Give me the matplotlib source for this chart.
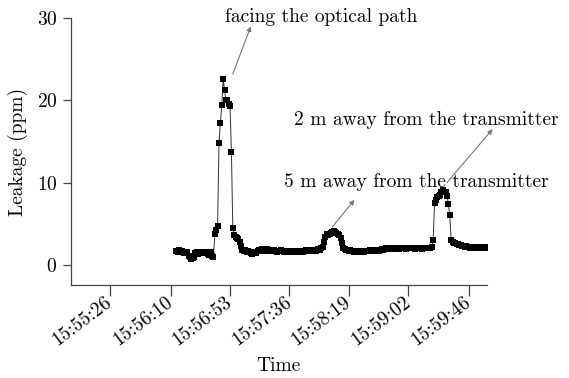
import matplotlib
matplotlib.use("Agg")
import matplotlib.pyplot as plt
from matplotlib.transforms import ScaledTranslation

plt.rcParams['font.family'] = ['cmr10', 'DejaVu Serif']
plt.rcParams['axes.formatter.use_mathtext'] = True

# leakage readings, one per second starting at start_time
start_time = "15:56:14"
step_s = 1
leakage = [
    1.7, 1.6, 1.8, 1.5, 1.7, 1.6, 1.4, 1.6, 1.5, 1.1,
    0.9, 0.7, 0.8, 1.0, 1.4, 1.5, 1.3, 1.6, 1.4, 1.5,
    1.6, 1.4, 1.5, 1.3, 1.2, 1.5, 1.1, 1.0, 3.7, 4.2,
    4.7, 14.8, 17.2, 19.4, 22.6, 21.3, 20.0, 20.0, 19.6, 19.3,
    13.7, 4.5, 3.6, 3.4, 3.3, 3.1, 2.8, 2.3, 1.8, 1.7,
    1.8, 1.6, 1.7, 1.5, 1.4, 1.3, 1.5, 1.6, 1.4, 1.7,
    1.8, 1.7, 1.9, 1.8, 1.7, 1.8, 1.9, 1.7, 1.8, 1.8,
    1.7, 1.8, 1.7, 1.6, 1.7, 1.7, 1.8, 1.7, 1.6, 1.7,
    1.7, 1.6, 1.7, 1.7, 1.6, 1.7, 1.6, 1.7, 1.7, 1.6,
    1.7, 1.7, 1.6, 1.7, 1.8, 1.7, 1.7, 1.8, 1.7, 1.8,
    1.8, 1.7, 1.8, 1.9, 1.8, 2.0, 2.2, 2.8, 3.4, 3.8,
    3.6, 3.7, 3.9, 4.0, 4.1, 4.0, 3.9, 3.7, 3.6, 3.3,
    2.6, 2.0, 1.9, 1.8, 1.8, 1.7, 1.8, 1.7, 1.7, 1.6,
    1.7, 1.7, 1.6, 1.7, 1.7, 1.7, 1.6, 1.7, 1.7, 1.7,
    1.8, 1.7, 1.7, 1.8, 1.7, 1.8, 1.8, 1.7, 1.8, 1.9,
    1.8, 1.9, 2.0, 1.9, 2.0, 1.9, 2.0, 2.0, 1.9, 2.0,
    2.0, 1.9, 2.0, 2.0, 2.1, 2.0, 1.9, 2.0, 2.0, 2.0,
    2.1, 2.0, 2.0, 1.9, 2.0, 2.0, 2.1, 2.0, 1.9, 2.0,
    2.0, 2.1, 2.0, 2.0, 2.1, 2.2, 3.0, 7.5, 7.9, 8.2,
    8.4, 8.5, 8.8, 9.1, 8.9, 8.8, 8.4, 7.4, 6.1, 3.0,
    2.8, 2.7, 2.6, 2.5, 2.5, 2.4, 2.4, 2.3, 2.3, 2.2,
    2.3, 2.2, 2.2, 2.1, 2.2, 2.2, 2.1, 2.2, 2.2, 2.1,
    2.2, 2.1, 2.2, 2.2, 2.1, 2.2,
]

tick_labels = ["15:55:26", "15:56:10", "15:56:53", "15:57:36",
               "15:58:19", "15:59:02", "15:59:46"]
x_range = ["15:54:58", "15:59:59"]
y_ticks = [0, 10, 20, 30]


def to_sec(s):
    h, m, sec = s.split(":")
    return int(h) * 3600 + int(m) * 60 + float(sec)


t0 = to_sec(start_time)
times = [t0 + i * step_s for i in range(len(leakage))]

fs = 14
fig = plt.figure(figsize=(5.69, 3.78), dpi=100)
ax = fig.add_axes([0.125, 0.245, 0.731, 0.707])

ax.plot(times, leakage, color='#333333', lw=0.7, marker='s', ms=4.0,
        mfc='black', mec='black', mew=0)

ax.set_xlim(to_sec(x_range[0]), to_sec(x_range[1]))
ax.set_ylim(-2.5, 30)
ax.set_yticks(y_ticks)
ax.set_xticks([to_sec(s) for s in tick_labels])
ax.set_xticklabels(tick_labels, rotation=37, ha='right', va='center',
                   rotation_mode='anchor', fontsize=13.5)
shift = ScaledTranslation(6 / 100, 0, fig.dpi_scale_trans)
for lab in ax.get_xticklabels():
    lab.set_transform(lab.get_transform() + shift)

for side in ['top', 'right']:
    ax.spines[side].set_visible(False)
for side in ['left', 'bottom']:
    ax.spines[side].set_color('#444444')
    ax.spines[side].set_linewidth(0.9)
ax.tick_params(direction='out', width=0.9, color='#444444', labelsize=fs)
ax.tick_params(axis='y', length=6, pad=4)
ax.tick_params(axis='x', length=8, pad=3)

fig.text(0.49, 0.032, 'Time', fontsize=fs, ha='center', va='center')
ax.set_ylabel('Leakage (ppm)', fontsize=fs, labelpad=6)

arrow = dict(arrowstyle='-|>', color='#777777', lw=0.8, shrinkA=0, shrinkB=0,
             mutation_scale=7)
ax.annotate('', xy=(to_sec("15:57:08"), 29.0), xytext=(to_sec("15:56:55"), 23.2),
            arrowprops=arrow, annotation_clip=False)
ax.text(to_sec("15:56:49"), 30.1, 'facing the optical path', fontsize=fs,
        ha='left', va='center')
ax.annotate('', xy=(to_sec("15:59:59") + 4, 16.5), xytext=(to_sec("15:59:30"), 10.0),
            arrowprops=arrow, annotation_clip=False)
ax.text(to_sec("15:57:39"), 17.6, '2 m away from the transmitter', fontsize=fs,
        ha='left', va='center')
ax.annotate('', xy=(to_sec("15:58:23"), 7.9), xytext=(to_sec("15:58:07"), 4.6),
            arrowprops=arrow)
ax.text(to_sec("15:57:32"), 10.1, '5 m away from the transmitter', fontsize=fs,
        ha='left', va='center')

fig.savefig('out.png', dpi=100)
